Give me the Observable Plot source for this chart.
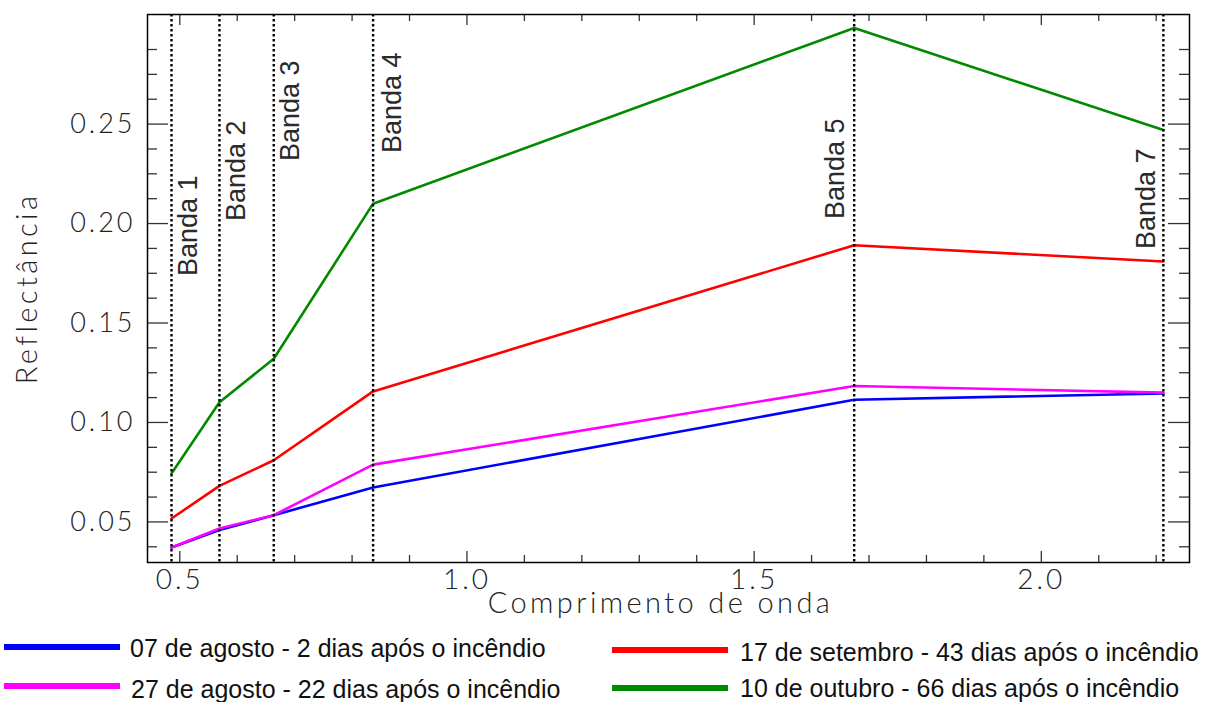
<!DOCTYPE html>
<html><head><meta charset="utf-8">
<script src="https://cdn.jsdelivr.net/npm/d3@7"></script>
<script src="https://cdn.jsdelivr.net/npm/@observablehq/plot@0.6"></script>
<style>
body{margin:0;background:#fff;}
#wrap{position:relative;width:1206px;height:702px;overflow:hidden;background:#fff;}
#wrap svg{display:block;}
g[aria-label="y-axis tick label"] text, g[aria-label="x-axis tick label"] text{letter-spacing:3px;}
g[aria-label="text"].axis-title text{letter-spacing:3.4px;}
</style></head><body><div id="wrap"></div>
<script>
// ---- data ----
const bands = ["Banda 1", "Banda 2", "Banda 3", "Banda 4", "Banda 5", "Banda 7"];
const wavelength = [0.4856, 0.5691, 0.6636, 0.8366, 1.6742, 2.2125];
const aug07 = [0.0371, 0.0459, 0.0534, 0.0673, 0.1114, 0.1146];
const aug27 = [0.0371, 0.0467, 0.0534, 0.0788, 0.1183, 0.1150];
const sep17 = [0.0517, 0.0681, 0.0810, 0.1156, 0.1891, 0.1809];
const oct10 = [0.0743, 0.1102, 0.1320, 0.2100, 0.2983, 0.2470];
const seriesNames = [
  "07 de agosto - 2 dias após o incêndio",
  "27 de agosto - 22 dias após o incêndio",
  "17 de setembro - 43 dias após o incêndio",
  "10 de outubro - 66 dias após o incêndio"
];
const xMajorTicks = [0.5, 1.0, 1.5, 2.0];
const xMinorTicks = [0.6, 0.7, 0.8, 0.9, 1.1, 1.2, 1.3, 1.4, 1.6, 1.7, 1.8, 1.9, 2.1, 2.2];
const yMajorTicks = [0.05, 0.10, 0.15, 0.20, 0.25];
const yMinorTicks = [0.0375, 0.0625, 0.075, 0.0875, 0.1125, 0.125, 0.1375, 0.1625, 0.175, 0.1875,
                     0.2125, 0.225, 0.2375, 0.2625, 0.275, 0.2875];
const xLabel = "Comprimento de onda";
const yLabel = "Reflectância";

// ---- build ----
const colors = ["#0000ff", "#ff00ff", "#ff0000", "#008a00"];
const allSeries = [aug07, aug27, sep17, oct10];
const rows = (vals) => vals.map((v, i) => ({w: wavelength[i], r: v}));

const W = 1206, H = 620, mL = 147, mR = 17, mT = 14, mB = 58;
const fw = W - mL - mR, fh = H - mT - mB;
const tickFont = "Lato, 'DejaVu Sans', sans-serif";
const labelFont = "'Liberation Sans', Arial, sans-serif";

// placement of the rotated band labels (pixel offsets)
const bandLabelPlace = [
  {dx: 6, dy: 161}, {dx: 6, dy: 106}, {dx: 6, dy: 46},
  {dx: 9, dy: 38}, {dx: -29, dy: 104}, {dx: -28, dy: 134}
];

const drawOrder = [3, 2, 0, 1];

const plot = Plot.plot({
  width: W, height: H,
  marginLeft: mL, marginRight: mR, marginTop: mT, marginBottom: mB,
  x: {domain: [0.4438, 2.258]},
  y: {domain: [0.0296, 0.3051]},
  style: {background: "white", color: "#222", fontFamily: tickFont},
  marks: [
    ...drawOrder.map(k => Plot.line(rows(allSeries[k]), {x: "w", y: "r", stroke: colors[k], strokeWidth: 2.6})),
    Plot.ruleX(wavelength, {x: d => d, stroke: "black", strokeWidth: 2.4, strokeDasharray: "2.4,2.6"}),
    // ticks on all four sides
    Plot.tickX(xMajorTicks, {x: d => d, insetTop: fh - 11, stroke: "#333", strokeWidth: 1.3}),
    Plot.tickX(xMinorTicks, {x: d => d, insetTop: fh - 7, stroke: "#333", strokeWidth: 1.3}),
    Plot.tickX(xMajorTicks, {x: d => d, insetBottom: fh - 11, stroke: "#333", strokeWidth: 1.3}),
    Plot.tickX(xMinorTicks, {x: d => d, insetBottom: fh - 7, stroke: "#333", strokeWidth: 1.3}),
    Plot.tickY(yMajorTicks, {y: d => d, insetRight: fw - 21, stroke: "#333", strokeWidth: 1.3}),
    Plot.tickY(yMinorTicks, {y: d => d, insetRight: fw - 10, stroke: "#333", strokeWidth: 1.3}),
    Plot.tickY(yMajorTicks, {y: d => d, insetLeft: fw - 21, stroke: "#333", strokeWidth: 1.3}),
    Plot.tickY(yMinorTicks, {y: d => d, insetLeft: fw - 10, stroke: "#333", strokeWidth: 1.3}),
    Plot.frame({stroke: "black", strokeWidth: 1.5}),
    Plot.axisX({ticks: xMajorTicks, tickSize: 0, tickPadding: 7, tickFormat: d => d.toFixed(1),
                fontSize: 28, fontWeight: 300, fontFamily: tickFont, label: null, fill: "#222"}),
    Plot.axisY({ticks: yMajorTicks, tickSize: 0, tickPadding: 12, tickFormat: d => d.toFixed(2),
                fontSize: 27, fontWeight: 300, fontFamily: tickFont, label: null, fill: "#222"}),
    Plot.text([xLabel], {frameAnchor: "bottom", text: d => d, textAnchor: "middle", dx: -8, dy: 50,
                fontSize: 29, fontWeight: 300, fontFamily: tickFont, fill: "#222", className: "axis-title"}),
    Plot.text([yLabel], {frameAnchor: "left", text: d => d, textAnchor: "middle", dx: -120, rotate: -90,
                fontSize: 29, fontWeight: 300, fontFamily: tickFont, fill: "#222", className: "axis-title"}),
    ...bands.map((b, i) => Plot.text([b], {x: () => wavelength[i], frameAnchor: "top", text: d => d,
                rotate: -90, textAnchor: "end", dx: bandLabelPlace[i].dx, dy: bandLabelPlace[i].dy,
                fontSize: 27, fontFamily: labelFont, fill: "#2a2a2a"}))
  ]
});
document.getElementById("wrap").appendChild(plot);
// widen the axis titles like the reference's wide vector font
d3.select(plot).selectAll(".axis-title text").style("letter-spacing", "3.4px");

// ---- legend below the chart ----
const legendPlace = [
  {x0: 4, x1: 120, ly: 27, tx: 130, ty: 37},
  {x0: 4, x1: 120, ly: 66, tx: 131, ty: 78},
  {x0: 612, x1: 728, ly: 30, tx: 740, ty: 41},
  {x0: 612, x1: 728, ly: 68, tx: 740, ty: 77}
];
const legend = d3.select("#wrap").append("svg").attr("width", W).attr("height", 702 - H);
seriesNames.forEach((name, k) => {
  const p = legendPlace[k];
  legend.append("line").attr("x1", p.x0).attr("x2", p.x1).attr("y1", p.ly).attr("y2", p.ly)
    .attr("stroke", colors[k]).attr("stroke-width", 6);
  legend.append("text").attr("x", p.tx).attr("y", p.ty).text(name)
    .attr("font-family", labelFont).attr("font-size", 25).attr("fill", "#111");
});
</script>
</body></html>
